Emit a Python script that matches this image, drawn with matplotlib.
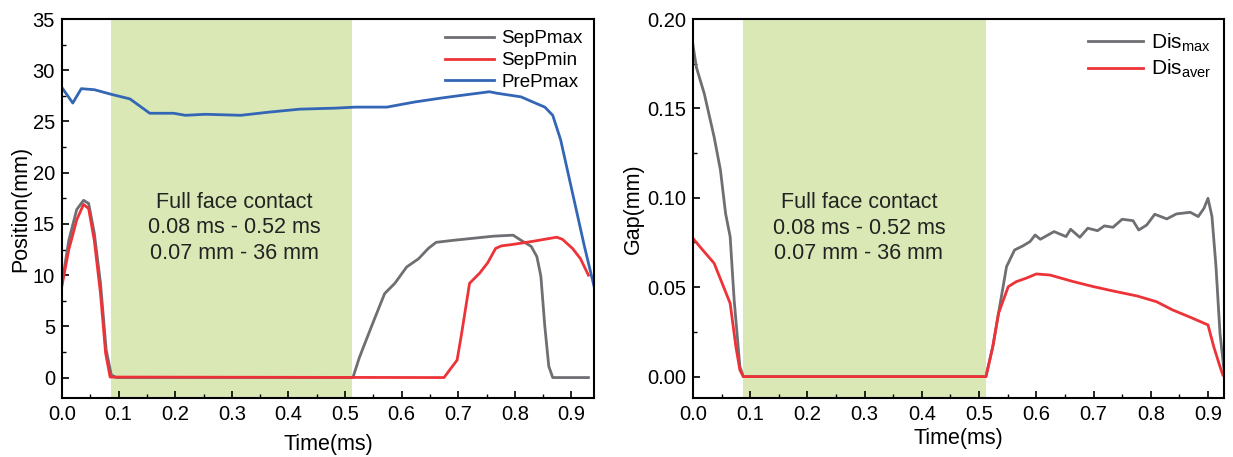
import matplotlib
matplotlib.use('Agg')
import matplotlib.pyplot as plt
from matplotlib.ticker import MultipleLocator

plt.rcParams['font.family'] = ['Liberation Sans', 'DejaVu Sans']
plt.rcParams['mathtext.fontset'] = 'custom'
plt.rcParams['mathtext.rm'] = 'Liberation Sans'
plt.rcParams['mathtext.it'] = 'Liberation Sans'

# ---- 左图数据 ----
pre_t = [0, 0.019, 0.034, 0.057, 0.087, 0.12, 0.155, 0.197, 0.218, 0.253, 0.316, 0.364,
         0.42, 0.483, 0.518, 0.574, 0.623, 0.672, 0.713, 0.755, 0.769, 0.811, 0.836,
         0.853, 0.867, 0.881, 0.902, 0.923, 0.94]
pre_pmax = [28.3, 26.8, 28.2, 28.1, 27.65, 27.2, 25.8, 25.8, 25.6, 25.7, 25.6, 25.9,
            26.2, 26.3, 26.4, 26.4, 26.9, 27.3, 27.6, 27.9, 27.75, 27.4, 26.8,
            26.4, 25.6, 23.2, 18.0, 12.8, 8.9]

sepmax_t = [0, 0.012, 0.026, 0.038, 0.047, 0.057, 0.068, 0.078, 0.087, 0.096, 0.514,
            0.525, 0.532, 0.549, 0.570, 0.588, 0.609, 0.630, 0.647, 0.661, 0.692, 0.727,
            0.762, 0.797, 0.811, 0.829, 0.839, 0.846, 0.853, 0.860, 0.867, 0.93]
sep_pmax = [9.2, 13.4, 16.4, 17.3, 17.0, 14.1, 9.2, 2.7, 0.26, 0, 0,
            1.9, 2.9, 5.3, 8.2, 9.2, 10.8, 11.6, 12.6, 13.2, 13.4, 13.6,
            13.8, 13.9, 13.4, 12.8, 11.8, 9.9, 5.0, 1.1, 0, 0]

sepmin_t = [0, 0.012, 0.026, 0.038, 0.047, 0.057, 0.068, 0.077, 0.085, 0.675, 0.685,
            0.698, 0.706, 0.72, 0.738, 0.752, 0.766, 0.776, 0.797, 0.832, 0.874, 0.884,
            0.902, 0.916, 0.93]
sep_pmin = [9.0, 12.5, 15.4, 16.9, 16.5, 13.4, 8.2, 2.4, 0.05, 0, 0.75,
            1.7, 4.3, 9.2, 10.2, 11.2, 12.6, 12.85, 13.0, 13.3, 13.7, 13.5,
            12.6, 11.6, 10.0]

# ---- 右图数据 ----
dmax_t = [0, 0.006, 0.02, 0.037, 0.048, 0.057, 0.065, 0.072, 0.082, 0.088, 0.512,
          0.524, 0.538, 0.548, 0.562, 0.576, 0.589, 0.598, 0.607, 0.631, 0.652, 0.66,
          0.676, 0.69, 0.707, 0.719, 0.734, 0.75, 0.769, 0.779, 0.793, 0.807, 0.828,
          0.845, 0.869, 0.883, 0.893, 0.9, 0.907, 0.914, 0.921, 0.928]
dis_max = [0.1855, 0.173, 0.158, 0.134, 0.1156, 0.0913, 0.0783, 0.0429, 0.0056, 0, 0,
           0.0168, 0.0429, 0.0615, 0.0708, 0.073, 0.0755, 0.0792, 0.0768, 0.0811, 0.0783, 0.0824,
           0.0779, 0.083, 0.0816, 0.0843, 0.0835, 0.088, 0.0872, 0.082, 0.0848, 0.0908, 0.0882,
           0.091, 0.0919, 0.0895, 0.0941, 0.0997, 0.0895, 0.0615, 0.0242, 0.0037]

daver_t = [0, 0.017, 0.037, 0.051, 0.065, 0.075, 0.082, 0.088, 0.512, 0.524, 0.534,
           0.551, 0.565, 0.582, 0.6, 0.624, 0.665, 0.7, 0.734, 0.776, 0.81, 0.838,
           0.869, 0.9, 0.91, 0.921, 0.926]
dis_aver = [0.0773, 0.0708, 0.0634, 0.0522, 0.041, 0.0168, 0.0037, 0, 0, 0.0168, 0.0354,
            0.0503, 0.0531, 0.055, 0.0574, 0.0568, 0.0531, 0.0503, 0.0479, 0.0451, 0.0419, 0.0373,
            0.0332, 0.0289, 0.0168, 0.0056, 0.0009]

contact_span = (0.087, 0.512)
contact_text = 'Full face contact\n0.08 ms - 0.52 ms\n0.07 mm - 36 mm'

gray = '#6E6E73'
red = '#EE3338'
blue = '#3366B5'
green = '#DAE8B5'


def style_axes(ax):
    # 仿 Origin 风格：刻度朝内，只保留左、下刻度
    for s in ax.spines.values():
        s.set_linewidth(1.5)
    ax.tick_params(which='both', direction='in', top=False, right=False, labelsize=14.5)
    ax.tick_params(which='major', length=5, width=1.2, pad=5)
    ax.tick_params(which='minor', length=3, width=1.0)


fig = plt.figure(figsize=(12.33, 4.57), dpi=100)

# 左图
ax1 = fig.add_axes([0.0503, 0.129, 0.4315, 0.8294])
ax1.axvspan(*contact_span, color=green, lw=0, zorder=0)
ax1.plot(sepmax_t, sep_pmax, color=gray, lw=2, label='SepPmax')
ax1.plot(sepmin_t, sep_pmin, color=red, lw=2, label='SepPmin')
ax1.plot(pre_t, pre_pmax, color=blue, lw=2, label='PrePmax')
ax1.set_xlim(0, 0.94)
ax1.set_ylim(-2, 35)
ax1.xaxis.set_major_locator(MultipleLocator(0.1))
ax1.xaxis.set_minor_locator(MultipleLocator(0.05))
ax1.yaxis.set_major_locator(MultipleLocator(5))
ax1.yaxis.set_minor_locator(MultipleLocator(2.5))
ax1.set_xlabel('Time(ms)', fontsize=15.5, labelpad=7)
ax1.set_ylabel('Position(mm)', fontsize=15.5, labelpad=1)
ax1.text(0.305, 14.6, contact_text, ha='center', va='center', fontsize=15.5,
         color='#222222', linespacing=1.3)
ax1.legend(loc='upper right', frameon=False, fontsize=13.5, handlelength=2.6,
           labelspacing=0.25, borderaxespad=0.2, handletextpad=0.4)
style_axes(ax1)

# 右图
ax2 = fig.add_axes([0.562, 0.129, 0.4307, 0.8294])
ax2.axvspan(*contact_span, color=green, lw=0, zorder=0)
ax2.plot(dmax_t, dis_max, color=gray, lw=2, label='Dis$_{\\mathrm{max}}$')
ax2.plot(daver_t, dis_aver, color=red, lw=2, label='Dis$_{\\mathrm{aver}}$')
ax2.set_xlim(0, 0.928)
ax2.set_ylim(-0.012, 0.2)
ax2.xaxis.set_major_locator(MultipleLocator(0.1))
ax2.xaxis.set_minor_locator(MultipleLocator(0.05))
ax2.yaxis.set_major_locator(MultipleLocator(0.05))
ax2.yaxis.set_minor_locator(MultipleLocator(0.025))
ax2.yaxis.set_major_formatter(plt.FormatStrFormatter('%.2f'))
ax2.set_xlabel('Time(ms)', fontsize=15.5, labelpad=3)
ax2.set_ylabel('Gap(mm)', fontsize=15.5, labelpad=2)
ax2.text(0.29, 0.083, contact_text, ha='center', va='center', fontsize=15.5,
         color='#222222', linespacing=1.3)
ax2.legend(loc='upper right', frameon=False, fontsize=15, handlelength=2.6,
           labelspacing=0.2, borderaxespad=0.2, handletextpad=0.4)
style_axes(ax2)

fig.savefig('out.png', dpi=100)
